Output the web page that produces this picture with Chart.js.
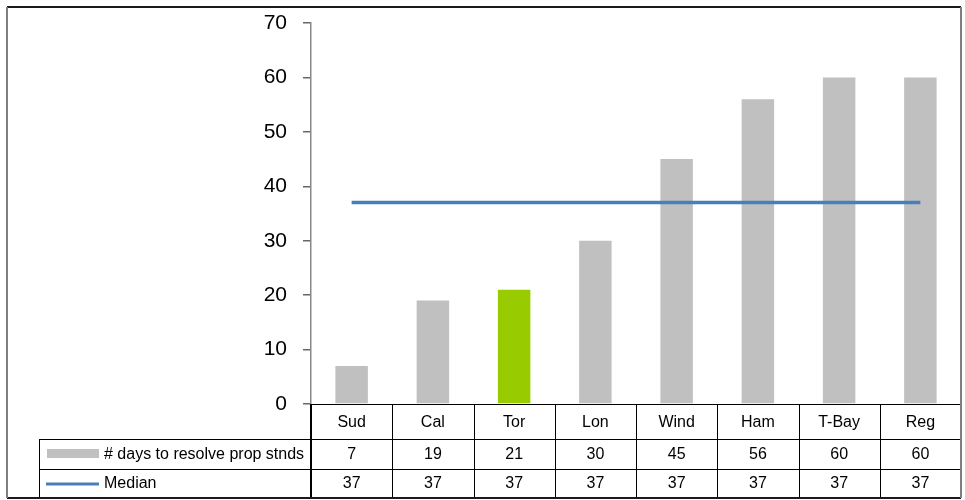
<!DOCTYPE html>
<html>
<head>
<meta charset="utf-8">
<script src="https://cdn.jsdelivr.net/npm/chart.js@4/dist/chart.umd.min.js"></script>
<style>
  html, body { margin: 0; padding: 0; background: #fff; }
  #wrap { width: 965px; height: 500px; position: relative; }
</style>
</head>
<body>
<div id="wrap"><canvas id="c" width="965" height="500"></canvas></div>
<script>
// Categories and series
const categories = ['Sud', 'Cal', 'Tor', 'Lon', 'Wind', 'Ham', 'T-Bay', 'Reg'];
const daysToResolve = [7, 19, 21, 30, 45, 56, 60, 60];
const medianValues = [37, 37, 37, 37, 37, 37, 37, 37];
const yTicks = [0, 10, 20, 30, 40, 50, 60, 70];
const seriesNames = ['# days to resolve prop stnds', 'Median'];

const GRAY = '#C0C0C0';
const GREEN = '#99CC00';
const BLUE = '#4A7EBB';
const FONT = '"Liberation Sans", Arial, sans-serif';

const barColors = categories.map(c => c === 'Tor' ? GREEN : GRAY);

// Data table under the plot plus the outer frame
const tablePlugin = {
  id: 'dataTable',
  afterDraw(chart) {
    const ctx = chart.ctx;
    const x = chart.scales.x;
    const area = chart.chartArea;
    const n = categories.length;
    const step = (area.right - area.left) / n;
    const row0 = area.bottom;          // top of category row
    const row1 = row0 + 35;            // top of series row
    const row2 = row1 + 30;            // top of median row
    const row3 = 497;                  // table bottom
    const legendLeft = 39;

    ctx.save();
    ctx.strokeStyle = '#000';
    ctx.lineWidth = 1;
    ctx.beginPath();
    // horizontal lines
    ctx.moveTo(area.left, row0 + 0.5); ctx.lineTo(area.right, row0 + 0.5);
    ctx.moveTo(legendLeft, row1 + 0.5); ctx.lineTo(area.right, row1 + 0.5);
    ctx.moveTo(legendLeft, row2 + 0.5); ctx.lineTo(area.right, row2 + 0.5);
    // legend column left edge
    ctx.moveTo(legendLeft + 0.5, row1); ctx.lineTo(legendLeft + 0.5, row3);
    // category separators
    for (let i = 1; i < n; i++) {
      const px = Math.round(area.left + i * step) + 0.5;
      ctx.moveTo(px, row0); ctx.lineTo(px, row3);
    }
    ctx.stroke();
    // heavier line along the axis through the table
    ctx.lineWidth = 2;
    ctx.beginPath();
    ctx.moveTo(area.left, row0); ctx.lineTo(area.left, row3);
    ctx.stroke();

    // cell text
    ctx.fillStyle = '#000';
    ctx.font = '16px ' + FONT;
    ctx.textAlign = 'center';
    ctx.textBaseline = 'middle';
    for (let i = 0; i < n; i++) {
      const cx = x.getPixelForValue(i);
      ctx.fillText(categories[i], cx, (row0 + row1) / 2 + 1);
      ctx.fillText(String(daysToResolve[i]), cx, (row1 + row2) / 2 + 1);
      ctx.fillText(String(medianValues[i]), cx, (row2 + row3) / 2 + 1);
    }

    // legend keys
    ctx.fillStyle = GRAY;
    ctx.fillRect(47, 449, 52, 9);
    ctx.strokeStyle = BLUE;
    ctx.lineWidth = 3;
    ctx.beginPath();
    ctx.moveTo(46, 484); ctx.lineTo(99, 484);
    ctx.stroke();
    ctx.fillStyle = '#000';
    ctx.textAlign = 'left';
    ctx.fillText(seriesNames[0], 104, (row1 + row2) / 2 + 1);
    ctx.fillText(seriesNames[1], 104, (row2 + row3) / 2 + 1);

    // outer frame
    ctx.lineWidth = 2;
    ctx.strokeStyle = '#1a1a1a';
    ctx.beginPath();
    ctx.moveTo(7, 7); ctx.lineTo(961, 7);
    ctx.moveTo(7, 498); ctx.lineTo(961, 498);
    ctx.stroke();
    ctx.strokeStyle = '#7f7f7f';
    ctx.beginPath();
    ctx.moveTo(7, 7); ctx.lineTo(7, 498);
    ctx.moveTo(961, 7); ctx.lineTo(961, 498);
    ctx.stroke();
    ctx.restore();
  }
};

new Chart(document.getElementById('c'), {
  data: {
    labels: categories,
    datasets: [
      {
        type: 'line',
        label: seriesNames[1],
        data: medianValues,
        borderColor: BLUE,
        borderWidth: 3.5,
        pointRadius: 0,
        fill: false,
        order: 0
      },
      {
        type: 'bar',
        label: seriesNames[0],
        data: daysToResolve,
        backgroundColor: barColors,
        borderWidth: 0,
        categoryPercentage: 1,
        barPercentage: 0.4,
        order: 1
      }
    ]
  },
  options: {
    responsive: false,
    animation: false,
    layout: { padding: { left: 0, right: 4, top: 23, bottom: 96 } },
    plugins: {
      legend: { display: false },
      tooltip: { enabled: false }
    },
    scales: {
      x: {
        display: false,
        offset: true
      },
      y: {
        min: 0,
        max: 70,
        afterBuildTicks(scale) {
          scale.ticks = yTicks.map(v => ({ value: v }));
        },
        afterFit(scale) {
          scale.width = 311;
          // the outer padding alone decides the plot's top and bottom
          scale.paddingTop = 0;
          scale.paddingBottom = 0;
        },
        border: { display: true, color: '#888', width: 1.5 },
        grid: {
          display: true,
          drawOnChartArea: false,
          drawTicks: true,
          tickLength: 8,
          color: '#666',
          lineWidth: 1.5
        },
        ticks: {
          color: '#000',
          padding: 16,
          font: { family: FONT, size: 21 }
        }
      }
    }
  },
  plugins: [tablePlugin]
});
</script>
</body>
</html>
